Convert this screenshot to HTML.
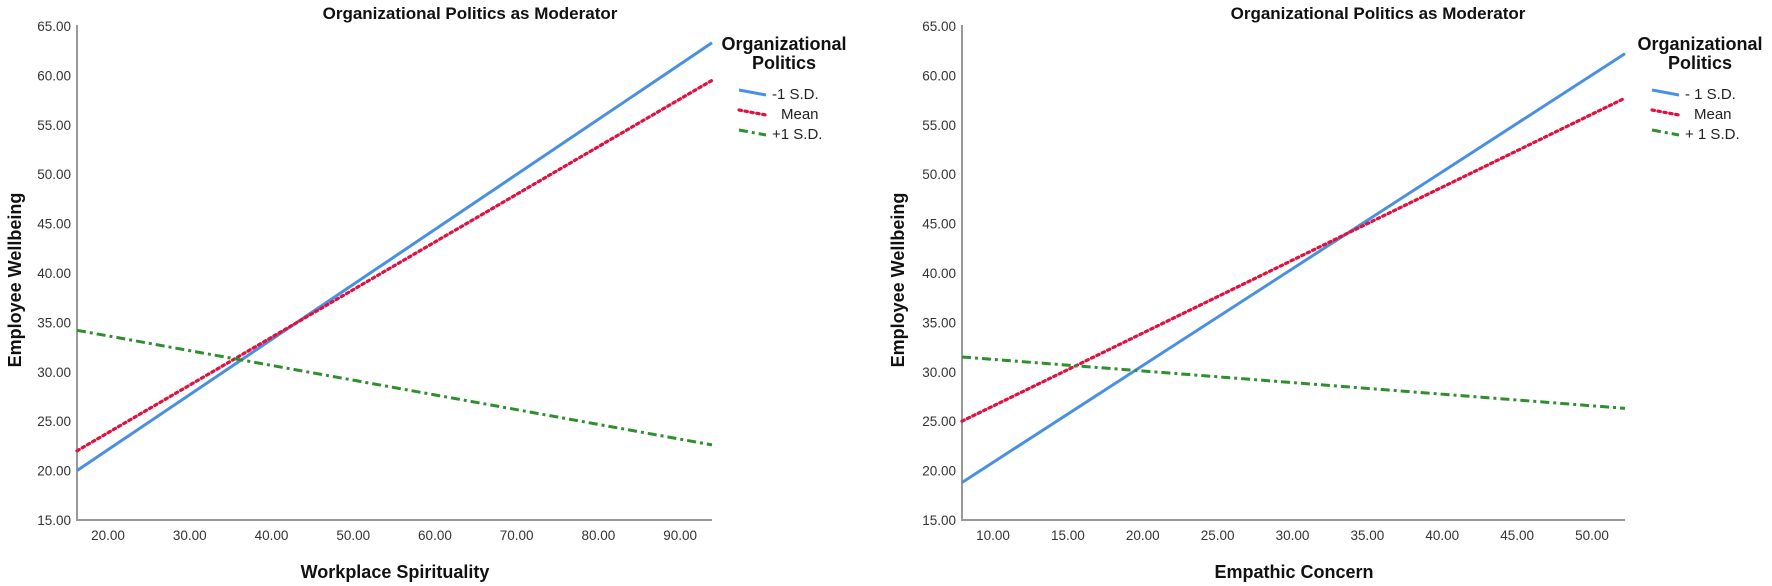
<!DOCTYPE html>
<html><head><meta charset="utf-8"><style>
html,body{margin:0;padding:0;background:#fff}
svg{display:block;font-family:"Liberation Sans",Arial,sans-serif}
</style></head><body>
<svg id="s" width="1772" height="586" xmlns="http://www.w3.org/2000/svg"></svg>
<script>
// Left chart data
const leftXRange = [16.2, 93.9];
const leftXTicks = [20, 30, 40, 50, 60, 70, 80, 90];
const leftLow = [20.0, 63.3];
const leftMean = [22.0, 59.5];
const leftHigh = [34.2, 22.6];
// Right chart data
const rightXRange = [7.93, 52.2];
const rightXTicks = [10, 15, 20, 25, 30, 35, 40, 45, 50];
const rightLow = [18.8, 62.2];
const rightMean = [25.0, 57.7];
const rightHigh = [31.5, 26.3];
const yTicks = [15, 20, 25, 30, 35, 40, 45, 50, 55, 60, 65];
const legendLabelsLeft = ["-1 S.D.", "Mean", "+1 S.D."];
const legendLabelsRight = ["- 1 S.D.", "Mean", "+ 1 S.D."];

const NS = "http://www.w3.org/2000/svg";
const svg = document.getElementById('s');
function mk(tag, attrs, parent, text){
  const e = document.createElementNS(NS, tag);
  for (const k in attrs) e.setAttribute(k, attrs[k]);
  if (text !== undefined) e.textContent = text;
  (parent || svg).appendChild(e);
  return e;
}
const styles = [
  {stroke:"#4a90e2", w:3, dash:null},
  {stroke:"#e0103f", w:3.2, dash:"2.5,3.5", cap:"round"},
  {stroke:"#2f8f2f", w:3, dash:"9,4,3,4"}
];
function chart(cfg){
  const g = mk('g', {});
  
  
  const x0=cfg.ax0, x1=cfg.ax1, yTop=26, yBot=520;
  const xs = v => x0 + (v - cfg.xr[0])/(cfg.xr[1]-cfg.xr[0])*(x1-x0);
  const ys = v => yBot - (v-15)/50*(yBot-yTop);
  const t = mk('text', {x:cfg.titleX, y:19, 'text-anchor':'middle','font-size':17,'font-weight':'bold',fill:'#111'}, g, "Organizational Politics as Moderator");
   
  yTicks.forEach(v=>{
    const e = mk('text',{x:x0-6,y:ys(v)+5,'text-anchor':'end','font-size':13.5,fill:'#333'},g,v.toFixed(2));
     
  });
  cfg.xt.forEach(v=>{
    const e = mk('text',{x:xs(v),y:540,'text-anchor':'middle','font-size':13.5,fill:'#333'},g,v.toFixed(2));
     
  });
  const ax = mk('path',{d:`M${x0},${yTop-1} V${yBot} H${x1}`,fill:'none',stroke:'#999','stroke-width':2},g);
   
  const yt = mk('text',{x:0,y:0,transform:`translate(${cfg.yTitleX},280) rotate(-90)`,'text-anchor':'middle','font-size':18,'font-weight':'bold',fill:'#111'},g,"Employee Wellbeing");
   
  const xt = mk('text',{x:cfg.xTitleX,y:578,'text-anchor':'middle','font-size':18,'font-weight':'bold',fill:'#111'},g,cfg.xTitle);
   
  const names=['line-minus-1sd','line-mean','line-plus-1sd'];
  cfg.series.forEach((s,i)=>{
    const st=styles[i];
    const a={x1:xs(cfg.xr[0]),y1:ys(s[0]),x2:xs(cfg.xr[1]),y2:ys(s[1]),stroke:st.stroke,'stroke-width':st.w};
    if(st.dash) a['stroke-dasharray']=st.dash;
    if(st.cap) a['stroke-linecap']=st.cap;
    const l=mk('line',a,g);
    
    
  });
  const lg = mk('g',{},g);
   
  mk('text',{x:cfg.legX,y:50,'text-anchor':'middle','font-size':18,'font-weight':'bold',fill:'#111'},lg,"Organizational");
  mk('text',{x:cfg.legX,y:69,'text-anchor':'middle','font-size':18,'font-weight':'bold',fill:'#111'},lg,"Politics");
  cfg.legLabels.forEach((lab,i)=>{
    const st=styles[i]; const y=90+i*20;
    const a={x1:cfg.legLine,y1:y,x2:cfg.legLine+27,y2:y+5,stroke:st.stroke,'stroke-width':st.w};
    if(st.dash) a['stroke-dasharray']=st.dash;
    if(st.cap) a['stroke-linecap']=st.cap;
    const l=mk('line',a,lg);
     
    const tx = mk('text',{x:cfg.legLine+(i===1?42:33),y:y+9,'font-size':15,fill:'#222'},lg,lab);
     
  });
}
chart({name:'left-chart',ax0:77,ax1:712,xr:leftXRange,xt:leftXTicks,series:[leftLow,leftMean,leftHigh],
  titleX:470,yTitleX:21,xTitle:"Workplace Spirituality",xTitleX:395,legX:784,legLine:739,legLabels:legendLabelsLeft});
chart({name:'right-chart',ax0:962,ax1:1625,xr:rightXRange,xt:rightXTicks,series:[rightLow,rightMean,rightHigh],
  titleX:1378,yTitleX:904,xTitle:"Empathic Concern",xTitleX:1294,legX:1700,legLine:1652,legLabels:legendLabelsRight});
</script>
</body></html>
